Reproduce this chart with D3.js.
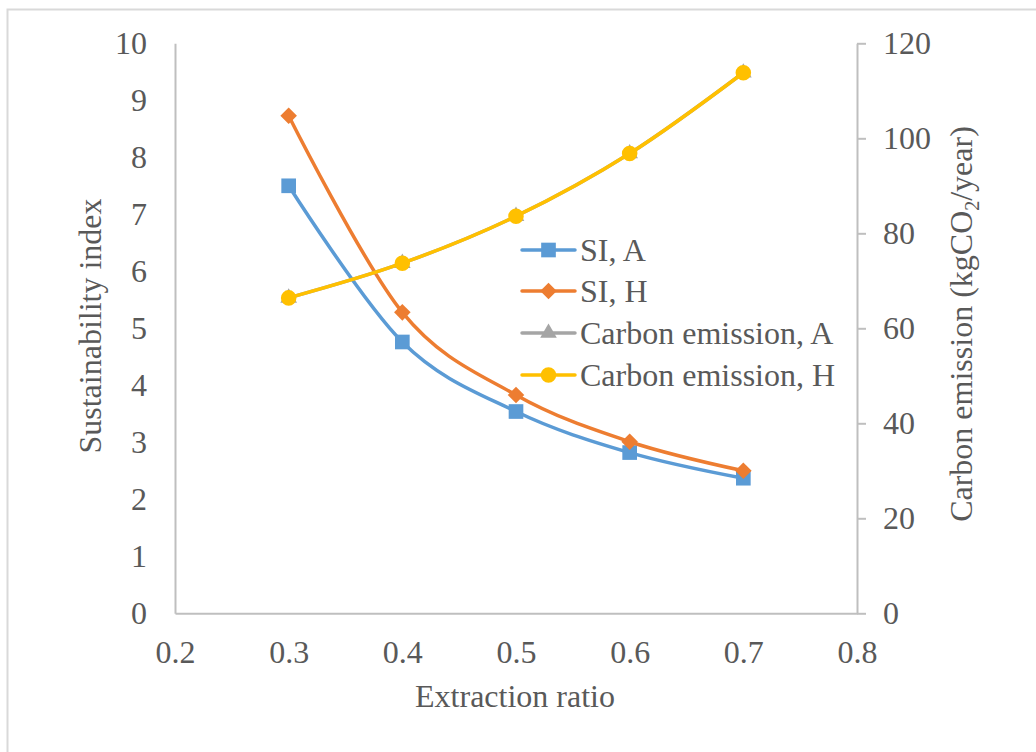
<!DOCTYPE html>
<html>
<head>
<meta charset="utf-8">
<script src="https://cdn.jsdelivr.net/npm/d3@7"></script>
<style>
  html, body { margin: 0; padding: 0; background: #fff; }
  svg { display: block; }
  text { font-family: "Liberation Serif", "Times New Roman", serif; fill: #595959; }
</style>
</head>
<body>
<svg id="chart" width="1036" height="752"></svg>
<script>
const extractionRatio = [0.3, 0.4, 0.5, 0.6, 0.7];
const siA = [7.50, 4.76, 3.54, 2.82, 2.37];
const siH = [8.73, 5.28, 3.83, 3.01, 2.50];
const carbonA = [66.4, 73.7, 83.6, 96.8, 113.8];
const carbonH = [66.4, 73.7, 83.6, 96.8, 113.8];
const xTicks = [0.2, 0.3, 0.4, 0.5, 0.6, 0.7, 0.8];
const yLeftTicks = [0, 1, 2, 3, 4, 5, 6, 7, 8, 9, 10];
const yRightTicks = [0, 20, 40, 60, 80, 100, 120];
const seriesNames = ["SI, A", "SI, H", "Carbon emission, A", "Carbon emission, H"];

const svg = d3.select("#chart");
const FONT = 32;
const FAMILY = "'Liberation Serif', 'Times New Roman', serif";
const axisColor = "#bfbfbf";

// outer chart border
svg.append("rect").attr("x", 7.5).attr("y", 9.5).attr("width", 1040).attr("height", 760)
  .attr("fill", "#fff").attr("stroke", "#d9d9d9").attr("stroke-width", 2);

const x = d3.scaleLinear().domain([0.2, 0.8]).range([175, 857]);
const yL = d3.scaleLinear().domain([0, 10]).range([613.3, 43.3]);
const yR = d3.scaleLinear().domain([0, 120]).range([613.3, 43.3]);

const gL = svg.append("g").attr("transform", "translate(175,0)")
  .call(d3.axisLeft(yL).tickValues(yLeftTicks).tickSize(0).tickPadding(28).tickFormat(d3.format("d")));
const gR = svg.append("g").attr("transform", "translate(857,0)")
  .call(d3.axisRight(yR).tickValues(yRightTicks).tickSizeInner(9).tickSizeOuter(0).tickPadding(17).tickFormat(d3.format("d")));
const gB = svg.append("g").attr("transform", "translate(0,613.3)")
  .call(d3.axisBottom(x).tickValues(xTicks).tickSize(0).tickPadding(27).tickFormat(d3.format(".1f")));

[gL, gR, gB].forEach(g => {
  g.attr("font-family", FAMILY).attr("font-size", FONT);
  g.selectAll(".domain").attr("stroke", axisColor).attr("stroke-width", 2);
  g.selectAll(".tick line").attr("stroke", axisColor).attr("stroke-width", 2);
  g.selectAll(".tick text").attr("font-size", FONT).attr("fill", "#595959").style("font-family", FAMILY);
});
gL.selectAll(".tick text").attr("dy", "0.33em");
gR.selectAll(".tick text").attr("dy", "0.33em");

svg.append("text").attr("x", 515).attr("y", 707).attr("text-anchor", "middle")
  .attr("font-size", FONT).style("font-family", FAMILY).text("Extraction ratio");
svg.append("text").attr("transform", "translate(101,326) rotate(-90)").attr("text-anchor", "middle")
  .attr("font-size", FONT).style("font-family", FAMILY).text("Sustainability index");
const rt = svg.append("text").attr("transform", "translate(972,324) rotate(-90)").attr("text-anchor", "middle")
  .attr("font-size", FONT).style("font-family", FAMILY);
rt.append("tspan").text("Carbon emission (kgCO");
rt.append("tspan").attr("font-size", 20).attr("dy", 7).text("2");
rt.append("tspan").attr("dy", -7).text("/year)");

const curve = d3.curveCardinal.tension(0);
const series = [
  { name: seriesNames[0], vals: siA, y: yL, color: "#5B9BD5", sym: d3.symbolSquare, size: 215 },
  { name: seriesNames[1], vals: siH, y: yL, color: "#ED7D31", sym: d3.symbolDiamond2, size: 175 },
  { name: seriesNames[2], vals: carbonA, y: yR, color: "#A5A5A5", sym: d3.symbolTriangle, size: 120 },
  { name: seriesNames[3], vals: carbonH, y: yR, color: "#FFC000", sym: d3.symbolCircle, size: 190 }
];

series.forEach(s => {
  const line = d3.line().x((d, i) => x(extractionRatio[i])).y(d => s.y(d)).curve(curve);
  svg.append("path").datum(s.vals).attr("d", line).attr("fill", "none")
    .attr("stroke", s.color).attr("stroke-width", 3.5).attr("stroke-linecap", "round");
  svg.append("g").selectAll("path").data(s.vals).join("path")
    .attr("transform", (d, i) => `translate(${x(extractionRatio[i])},${s.y(d)})`)
    .attr("d", d3.symbol().type(s.sym).size(s.size)).attr("fill", s.color);
});

const legendY = [250, 291, 333, 375];
const lg = svg.append("g");
series.forEach((s, i) => {
  const yy = legendY[i];
  lg.append("line").attr("x1", 522).attr("x2", 575).attr("y1", yy).attr("y2", yy)
    .attr("stroke", s.color).attr("stroke-width", 3.5).attr("stroke-linecap", "round");
  lg.append("path").attr("transform", `translate(548.5,${yy})`)
    .attr("d", d3.symbol().type(s.sym).size(s.size)).attr("fill", s.color);
  lg.append("text").attr("x", 580).attr("y", yy).attr("dy", "0.33em").attr("font-size", FONT)
    .style("font-family", FAMILY).text(s.name);
});
</script>
</body>
</html>
